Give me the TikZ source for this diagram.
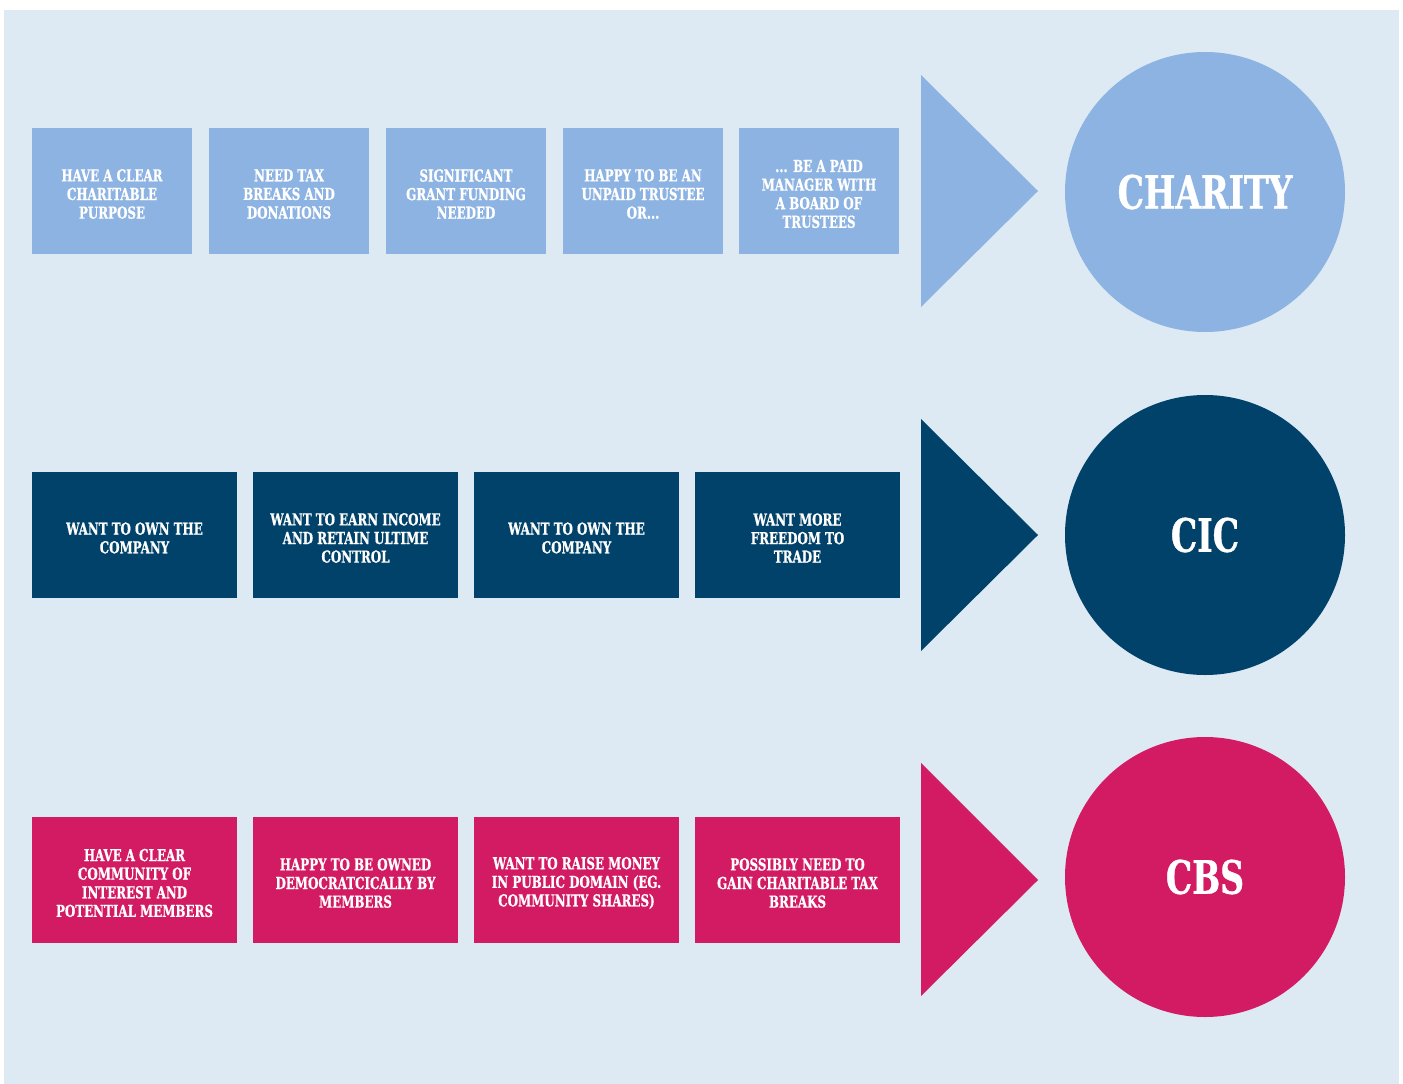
\documentclass[tikz,border=0pt]{standalone}
\usepackage{fontspec}
\newfontfamily\slab{DejaVu Serif Condensed Bold}[FakeStretch=0.8,FakeBold=0.8]
\definecolor{pagebg}{HTML}{DDEAF3}
\definecolor{skyblue}{HTML}{8DB3E2}
\definecolor{navy}{HTML}{00426A}
\definecolor{magenta}{HTML}{D21B62}
\begin{document}
\begin{tikzpicture}[x=1pt,y=-1pt,
  reason/.style={fill=#1,draw=none,inner sep=0pt},
  reasontext/.style={inner sep=0pt,text=white,align=center,
    font=\slab\fontsize{16.5}{18.6}\selectfont},
  label/.style={fill=#1,draw=none,circle,inner sep=0pt,minimum size=280pt,text=white,
    font=\slab\fontsize{46}{50}\selectfont},
  pointer/.style={fill=#1,draw=none}]
\useasboundingbox (0,0) rectangle (1403,1084);
\fill[pagebg] (4,10) rectangle (1399,1084);

% --- Charity row ---
\foreach \n/\x/\t in {1/32/{HAVE A CLEAR\\CHARITABLE\\PURPOSE},
                      2/209/{NEED TAX\\BREAKS AND\\DONATIONS},
                      3/386/{SIGNIFICANT\\GRANT FUNDING\\NEEDED},
                      4/563/{HAPPY TO BE AN\\UNPAID TRUSTEE\\OR...},
                      5/739/{... BE A PAID\\MANAGER WITH\\A BOARD OF\\TRUSTEES}}
{
  \node[reason=skyblue,minimum width=160pt,minimum height=126pt] (ch\n) at (\x+80,191) {};
  \node[reasontext] (ch\n t) at ([yshift=-3pt]ch\n.center) {\t};
}
\fill[pointer=skyblue] (921,75) -- (1038,191) -- (921,307) -- cycle;
\node[label=skyblue] (charity) at (1205,192) {CHARITY};

% --- CIC row ---
\foreach \n/\x/\t in {1/32/{WANT TO OWN THE\\COMPANY},
                      2/253/{WANT TO EARN INCOME\\AND RETAIN ULTIME\\CONTROL},
                      3/474/{WANT TO OWN THE\\COMPANY},
                      4/695/{WANT MORE\\FREEDOM TO\\TRADE}}
{
  \node[reason=navy,minimum width=205pt,minimum height=126pt] (cic\n) at (\x+102.5,535) {};
  \node[reasontext] (cic\n t) at ([yshift=-3pt]cic\n.center) {\t};
}
\fill[pointer=navy] (921,419) -- (1038,535) -- (921,651) -- cycle;
\node[label=navy] (cic) at (1205,535) {CIC};

% --- CBS row ---
\foreach \n/\x/\t in {1/32/{HAVE A CLEAR\\COMMUNITY OF\\INTEREST AND\\POTENTIAL MEMBERS},
                      2/253/{HAPPY TO BE OWNED\\DEMOCRATCICALLY BY\\MEMBERS},
                      3/474/{WANT TO RAISE MONEY\\IN PUBLIC DOMAIN (EG.\\COMMUNITY SHARES)},
                      4/695/{POSSIBLY NEED TO\\GAIN CHARITABLE TAX\\BREAKS}}
{
  \node[reason=magenta,minimum width=205pt,minimum height=126pt] (cbs\n) at (\x+102.5,880) {};
  \node[reasontext] (cbs\n t) at ([yshift=-3pt]cbs\n.center) {\t};
}
\fill[pointer=magenta] (921,763) -- (1038,880) -- (921,996) -- cycle;
\node[label=magenta] (cbs) at (1205,877) {CBS};
\end{tikzpicture}
\end{document}
